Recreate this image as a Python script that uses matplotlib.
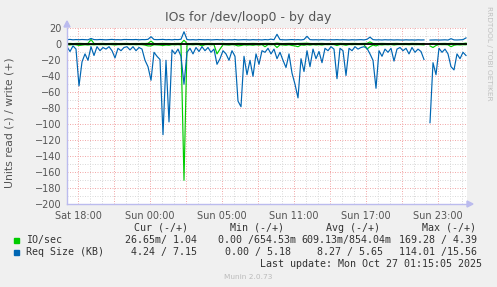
import matplotlib.pyplot as plt
import numpy as np

# time axis: hours relative to Sat 18:00, one sample every 15 minutes
t_start = -11 / 12
n_samples = 134

tick_hours = [0, 6, 12, 18, 24, 30]
tick_labels = ['Sat 18:00', 'Sun 00:00', 'Sun 05:00', 'Sun 11:00', 'Sun 17:00', 'Sun 23:00']

# Req Size (KB): write (+) and read (-)
req_write = [5.8, 6.1, 5.6, 5.9, 5.7, 6.0, 5.8, 5.6, 7.3, 5.9,
             5.7, 6.0, 5.8, 5.6, 5.9, 6.1, 5.7, 5.8, 5.6, 6.0,
             5.9, 5.7, 5.8, 6.0, 5.6, 5.9, 5.8, 6.2, 9.5, 6.0,
             5.8, 5.9, 6.1, 5.7, 5.9, 5.6, 6.0, 5.8, 6.3, 15.7,
             5.9, 5.6, 5.8, 5.5, 5.9, 5.7, 5.6, 5.8, 5.5, 5.7,
             5.9, 5.6, 5.8, 5.5, 5.7, 5.6, 5.9, 5.5, 5.7, 5.8,
             5.6, 5.5, 5.8, 5.6, 5.7, 5.5, 5.9, 5.6, 6.4, 5.7,
             12.5, 5.8, 5.6, 5.5, 5.7, 5.9, 5.6, 5.8, 5.5, 6.0,
             10.0, 5.8, 5.6, 5.7, 5.5, 5.8, 5.6, 5.5, 5.7, 5.6,
             5.8, 5.5, 5.7, 5.6, 5.4, 5.7, 5.5, 5.6, 5.8, 5.5,
             6.2, 9.0, 5.8, 5.5, 5.6, 5.4, 5.7, 5.5, 5.6, 5.4,
             5.6, 5.5, 5.3, 5.6, 5.4, 5.5, 5.3, 5.6, 5.4, 5.5,
             np.nan, 5.3, 5.4, 5.5, 5.3, 5.4, 5.6, 5.3, 7.0, 5.5,
             5.4, 5.6, 5.8, 8.0]
req_read = [3, 9, 2, 6, 52, 22, 12, 20, 3, 14,
            3, 8, 4, 6, 3, 8, 17, 5, 8, 4,
            3, 7, 3, 8, 4, 6, 20, 28, 45, 10,
            15, 19, 113, 20, 97, 7, 12, 6, 15, 50,
            10, 5, 12, 4, 9, 3, 8, 4, 10, 6,
            25, 18, 8, 12, 20, 8, 15, 71, 78, 15,
            38, 20, 40, 12, 25, 8, 10, 5, 12, 6,
            18, 10, 20, 29, 12, 36, 50, 67, 18, 34,
            8, 28, 6, 18, 9, 23, 5, 8, 3, 6,
            43, 5, 8, 39, 5, 8, 3, 6, 4, 3,
            5, 12, 20, 55, 8, 15, 6, 10, 5, 21,
            6, 4, 8, 5, 12, 4, 10, 6, 9, 19,
            np.nan, 98, 23, 38, 5, 10, 6, 12, 28, 32,
            12, 18, 10, 14]

# IO/sec: write (+) and read (-)
io_write = [1.0, 1.1, 0.9, 1.0, 1.2, 1.0, 0.9, 1.1, 6.0, 1.0,
            0.9, 1.0, 1.1, 0.9, 1.0, 1.0, 1.1, 0.9, 1.0, 1.0,
            1.1, 0.9, 1.0, 1.0, 0.9, 1.1, 1.0, 1.2, 4.0, 1.0,
            0.9, 1.0, 1.1, 1.0, 1.0, 0.9, 1.0, 1.1, 1.0, 5.0,
            1.0, 0.9, 1.0, 1.1, 1.0, 0.9, 1.0, 1.0, 1.1, 0.9,
            1.0, 1.0, 1.1, 0.9, 1.0, 1.0, 0.9, 1.1, 1.0, 1.0,
            0.9, 1.0, 1.1, 1.0, 0.9, 1.0, 1.0, 1.1, 1.0, 0.9,
            1.5, 1.0, 0.9, 1.0, 1.1, 1.0, 0.9, 1.0, 1.0, 1.1,
            1.4, 1.0, 0.9, 1.0, 1.0, 1.1, 0.9, 1.0, 1.0, 0.9,
            1.0, 1.1, 1.0, 0.9, 1.0, 1.0, 1.1, 0.9, 1.0, 1.0,
            1.2, 3.0, 1.0, 0.9, 1.0, 1.1, 1.0, 0.9, 1.0, 1.0,
            1.1, 0.9, 1.0, 1.0, 0.9, 1.1, 1.0, 1.0, 0.9, 1.0,
            np.nan, 1.0, 1.1, 0.9, 1.0, 1.0, 1.1, 0.9, 1.2, 1.0,
            1.0, 1.1, 1.0, 1.5]
io_read = [0.5, 0.8, 0.3, 0.6, 1.5, 1.0, 0.6, 0.9, 0.4, 0.7,
           0.3, 0.5, 0.4, 0.6, 0.3, 0.5, 0.9, 0.4, 0.5, 0.3,
           0.3, 0.5, 0.3, 0.6, 0.4, 0.5, 1.0, 2.0, 2.0, 0.6,
           0.8, 1.0, 1.5, 0.9, 1.2, 0.5, 0.7, 0.4, 0.9, 170.0,
           0.6, 0.4, 0.7, 0.3, 0.5, 2.0, 0.5, 0.3, 0.6, 0.4,
           12.0, 6.0, 0.5, 0.7, 1.0, 0.5, 0.8, 2.0, 1.5, 0.7,
           1.0, 0.8, 1.2, 0.6, 1.0, 0.4, 3.0, 0.4, 0.6, 0.4,
           4.0, 0.6, 0.9, 1.2, 0.6, 1.5, 2.0, 3.0, 0.8, 1.2,
           0.5, 1.0, 0.4, 0.8, 0.5, 0.9, 0.3, 0.5, 0.3, 0.4,
           1.5, 0.3, 0.5, 1.2, 0.3, 0.5, 0.3, 0.4, 0.3, 0.3,
           6.0, 3.0, 1.0, 2.0, 0.5, 0.8, 0.4, 0.6, 0.3, 0.9,
           0.4, 0.3, 0.5, 0.3, 0.6, 0.3, 0.5, 0.4, 0.5, 0.8,
           np.nan, 2.0, 4.0, 1.5, 0.3, 0.5, 0.4, 0.6, 3.0, 1.2,
           0.6, 0.8, 0.5, 0.6]

# legend table
legend_names = ['IO/sec', 'Req Size (KB)']
legend_colors = ['#00CC00', '#0066B3']
col_headers = ['Cur (-/+)', 'Min (-/+)', 'Avg (-/+)', 'Max (-/+)']
row_values = [['26.65m/ 1.04', '0.00 /654.53m', '609.13m/854.04m', '169.28 / 4.39'],
              ['4.24 / 7.15', '0.00 / 5.18', '8.27 / 5.65', '114.01 /15.56']]

t = t_start + 0.25 * np.arange(n_samples)
green, blue = legend_colors

W, H = 497, 287
fig = plt.figure(figsize=(W / 100, H / 100), dpi=100, facecolor='#F0F0F0')
ax = fig.add_axes([67 / W, 1 - 204.3 / H, 400 / W, 176 / H])
ax.set_facecolor('white')

x0, x1 = t_start, t_start + 400 / 12
ax.set_xlim(x0, x1)
ax.set_ylim(-200, 20)

# grid: minor grey, major red, both dotted
px = 0.72
for h in np.arange(np.ceil(x0), x1, 1):
    major = (h % 3 == 0)
    ax.axvline(h, color='#F2AAAA' if major else '#DADADA', lw=px, ls=(0, (1, 1.5)), zorder=1)
for v in range(-190, 21, 10):
    major = (v % 20 == 0)
    ax.axhline(v, color='#F2AAAA' if major else '#DADADA', lw=px, ls=(0, (1, 1.5)), zorder=1)

io_read_neg = -np.array(io_read, dtype=float)
req_read_neg = -np.array(req_read, dtype=float)

ax.plot(t, io_read_neg, color=green, lw=0.85, zorder=3)
ax.plot(t, io_write, color=green, lw=0.85, zorder=3)
ax.plot(t, req_read_neg, color=blue, lw=0.85, zorder=4)
ax.plot(t, req_write, color=blue, lw=0.85, zorder=4)
ax.axhline(0, color='black', lw=1.3, zorder=5)

for s in ax.spines.values():
    s.set_visible(False)
ax.tick_params(length=0, labelsize=7, colors='#555555', pad=4)
ax.set_yticks(range(-200, 21, 20))
ax.set_xticks(tick_hours)
ax.set_xticklabels(tick_labels)
ax.tick_params(axis='x', pad=5)

# axis lines with arrows
axis_col = '#BBBBEE'
ax.plot([x0, x0], [-200, 20], color=axis_col, lw=1.0, clip_on=False, zorder=6)
ax.plot([x0, x1], [-200, -200], color=axis_col, lw=1.0, clip_on=False, zorder=6)
fig.patches.append(plt.Polygon([[64 / W, 1 - 27 / H], [70 / W, 1 - 27 / H], [67 / W, 1 - 21 / H]],
                               closed=True, color=axis_col, transform=fig.transFigure))
fig.patches.append(plt.Polygon([[467 / W, 1 - 201 / H], [467 / W, 1 - 207 / H], [473 / W, 1 - 204 / H]],
                               closed=True, color=axis_col, transform=fig.transFigure))

fig.text(248 / W, 1 - 18 / H, 'IOs for /dev/loop0 - by day', ha='center', va='center',
         fontsize=9, color='#555555')
fig.text(10 / W, 1 - 123 / H, 'Units read (-) / write (+)', rotation=90, ha='center', va='center',
         fontsize=7.8, color='#555555')
fig.text(489 / W, 1 - 53 / H, 'RRDTOOL / TOBI OETIKER', rotation=270, ha='center', va='center',
         fontsize=5.3, color='#C0C0C0')
fig.text(248 / W, 1 - 277 / H, 'Munin 2.0.73', ha='center', va='center', fontsize=5.3, color='#BBBBBB')

mono = dict(family='DejaVu Sans Mono', fontsize=7.2, color='#333333', va='center')
for x, txt in zip([134, 230, 326, 422], col_headers):
    fig.text(x / W, 1 - 228 / H, txt, ha='left', **mono)

rows_y = [240, 252]
value_right = [[197, 296, 391, 477], [197, 291, 383, 477]]
for y, name, col, vals, rights in zip(rows_y, legend_names, legend_colors, row_values, value_right):
    fig.patches.append(plt.Rectangle((14 / W, 1 - (y + 2.5) / H), 5 / W, 5 / H,
                                     color=col, transform=fig.transFigure))
    fig.text(26 / W, 1 - y / H, name, ha='left', **mono)
    for xr, val in zip(rights, vals):
        fig.text(xr / W, 1 - y / H, val, ha='right', **mono)

fig.text(482 / W, 1 - 264 / H, 'Last update: Mon Oct 27 01:15:05 2025', ha='right', **mono)

fig.savefig('out.png', dpi=100, facecolor=fig.get_facecolor())
